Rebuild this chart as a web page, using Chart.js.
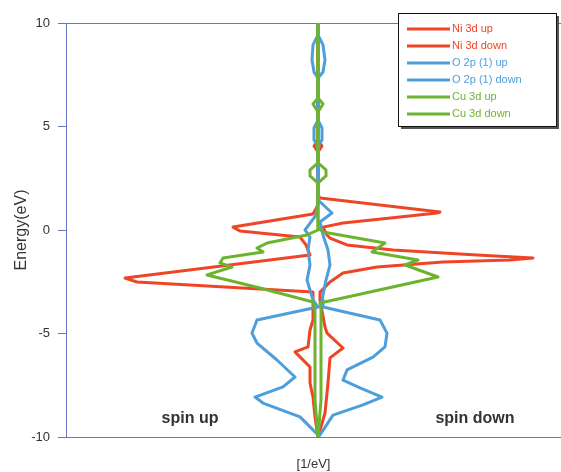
<!DOCTYPE html>
<html>
<head>
<meta charset="utf-8">
<script src="https://cdn.jsdelivr.net/npm/chart.js@4.4.1/dist/chart.umd.min.js"></script>
<style>
  html, body { margin: 0; padding: 0; background: #fff; overflow: hidden; }
  #wrap { position: relative; width: 561px; height: 472px; }
</style>
</head>
<body>
<div id="wrap"><canvas id="c" width="561" height="472"></canvas></div>
<script>
// ---- Data (energy in eV, DOS in 1/eV; spin up plotted as negative) ----
const seriesNames = ["Ni 3d up", "Ni 3d down", "O 2p (1) up", "O 2p (1) down", "Cu 3d up", "Cu 3d down"];
const yTicks = [-10, -5, 0, 5, 10];
const sideLabels = ["spin up", "spin down"];

const niUpE = [10, 4.35, 4.06, 3.77, 1.21, 0.77, 0.14, -0.05, -0.34, -0.72, -1.21, -2.32, -2.51, -3.00, -4.35, -4.83, -5.65, -5.89, -6.62, -7.39, -8.07, -9.03, -10];
const niUpD = [0, 0, -0.08, 0, 0, -0.1, -1.7, -1.56, -0.36, -0.24, -0.16, -3.86, -3.62, -0.1, -0.1, -0.16, -0.2, -0.46, -0.16, -0.16, -0.1, -0.06, 0];

const niDnE = [10, 4.35, 4.06, 3.77, 1.69, 1.55, 0.87, 0.82, 0.63, 0.34, 0.14, -0.24, -0.39, -0.72, -0.97, -1.21, -1.35, -1.45, -1.55, -1.79, -2.08, -2.51, -3.00, -3.38, -4.69, -4.98, -5.70, -6.18, -7.39, -8.84, -10];
const niDnD = [0, 0, 0.08, 0, 0, 0.04, 2.44, 2.38, 1.64, 0.5, 0.1, 0.18, 0.24, 0.58, 1.5, 3.18, 4.3, 3.84, 2.5, 1.18, 0.5, 0.24, 0.04, 0.04, 0.14, 0.18, 0.5, 0.24, 0.2, 0.14, 0];

const oUpE = [10, 9.42, 8.94, 8.21, 7.63, 7.34, 5.31, 4.93, 4.35, 4.06, 1.45, 0.72, 0, -0.34, -0.97, -1.69, -2.42, -3.38, -3.72, -4.35, -4.98, -5.46, -6.28, -7.10, -7.58, -8.07, -8.36, -9.03, -9.90, -10];
const oUpD = [0, 0, -0.1, -0.12, -0.08, 0, 0, -0.08, -0.08, 0, 0, -0.04, -0.26, -0.16, -0.2, -0.16, -0.22, -0.1, 0, -1.22, -1.32, -1.22, -0.82, -0.46, -0.7, -1.26, -1.1, -0.36, 0, 0];

const oDnE = [10, 9.42, 8.94, 8.21, 7.63, 7.34, 5.31, 4.93, 4.35, 4.06, 1.45, 0.82, 0.39, -0.24, -0.97, -1.69, -2.42, -3.38, -3.72, -4.35, -4.98, -5.65, -6.14, -6.76, -7.25, -7.63, -8.07, -8.45, -8.94, -9.90, -10];
const oDnD = [0, 0, 0.1, 0.14, 0.1, 0, 0, 0.08, 0.08, 0, 0, 0.28, 0.04, 0.1, 0.2, 0.24, 0.16, 0.08, 0.1, 1.24, 1.38, 1.34, 1.1, 0.58, 0.5, 0.84, 1.28, 0.9, 0.3, 0.04, 0];

const cuUpE = [10, 6.38, 6.09, 5.70, 3.24, 2.90, 2.61, 2.27, 0, -0.24, -0.63, -0.87, -1.06, -1.35, -1.59, -1.79, -2.17, -2.80, -3.48, -3.86, -8.21, -10];
const cuUpD = [0, 0, -0.1, 0, 0, -0.16, -0.16, 0, 0, -0.22, -1.02, -1.22, -1.1, -1.9, -1.96, -1.72, -2.22, -1.16, -0.1, -0.06, -0.06, 0];

const cuDnE = [10, 6.38, 6.09, 5.70, 3.24, 2.90, 2.61, 2.27, 0.10, -0.10, -0.63, -1.06, -1.45, -1.69, -2.27, -3.53, -3.86, -8.21, -10];
const cuDnD = [0, 0, 0.1, 0, 0, 0.16, 0.16, 0, 0, 0.1, 1.34, 1.08, 2.0, 1.74, 2.4, 0.04, 0.06, 0.06, 0];

const RED = '#ee4526', BLUE = '#4d9fdc', GREEN = '#6db42e';
const AXIS = '#6477c4';

function pts(E, D) { return E.map((e, i) => ({ x: D[i], y: e })); }
function ds(label, E, D, color, order) {
  return { label, data: pts(E, D), borderColor: color, backgroundColor: color,
           borderWidth: 3, pointRadius: 0, showLine: true, tension: 0, order,
           borderJoinStyle: 'round', borderCapStyle: 'round' };
}

const datasets = [
  ds(seriesNames[0], niUpE, niUpD, RED, 3),
  ds(seriesNames[1], niDnE, niDnD, RED, 3),
  ds(seriesNames[2], oUpE, oUpD, BLUE, 2),
  ds(seriesNames[3], oDnE, oDnD, BLUE, 2),
  ds(seriesNames[4], cuUpE, cuUpD, GREEN, 1),
  ds(seriesNames[5], cuDnE, cuDnD, GREEN, 1)
];
const legendColors = [RED, RED, BLUE, BLUE, GREEN, GREEN];

const deco = {
  id: 'deco',
  beforeDatasetsDraw(chart) {
    const { ctx, chartArea } = chart;
    ctx.save();
    ctx.strokeStyle = AXIS; ctx.lineWidth = 1;
    ctx.beginPath();
    ctx.moveTo(chartArea.left - 8, Math.round(chartArea.top) + 0.5);
    ctx.lineTo(chartArea.right, Math.round(chartArea.top) + 0.5);
    ctx.stroke();
    ctx.restore();
  },
  afterDraw(chart) {
    const { ctx, scales } = chart;
    ctx.save();
    // side labels
    ctx.fillStyle = '#333';
    ctx.font = 'bold 16px "Liberation Sans", Arial, sans-serif';
    ctx.textAlign = 'center'; ctx.textBaseline = 'middle';
    ctx.fillText(sideLabels[0], scales.x.getPixelForValue(-2.56), scales.y.getPixelForValue(-9.1));
    ctx.fillText(sideLabels[1], scales.x.getPixelForValue(3.14), scales.y.getPixelForValue(-9.1));
    // legend box
    const bx = 398, by = 13, bw = 158, bh = 113;
    ctx.fillStyle = '#555';
    ctx.fillRect(bx + 3, by + 3, bw, bh);
    ctx.fillStyle = '#fff';
    ctx.fillRect(bx, by, bw, bh);
    ctx.strokeStyle = '#111'; ctx.lineWidth = 1;
    ctx.strokeRect(bx + 0.5, by + 0.5, bw, bh);
    ctx.font = '11px "Liberation Sans", Arial, sans-serif';
    ctx.textAlign = 'left'; ctx.textBaseline = 'middle';
    const rowY = [29, 46, 63, 80, 97, 114];
    seriesNames.forEach((name, i) => {
      ctx.strokeStyle = legendColors[i]; ctx.lineWidth = 3;
      ctx.beginPath(); ctx.moveTo(407, rowY[i]); ctx.lineTo(450, rowY[i]); ctx.stroke();
      ctx.fillStyle = legendColors[i];
      ctx.fillText(name, 452, rowY[i]);
    });
    ctx.restore();
  }
};

new Chart(document.getElementById('c'), {
  type: 'scatter',
  data: { datasets },
  options: {
    responsive: false,
    animation: false,
    events: [],
    layout: { padding: { top: 23, right: 0, left: 0, bottom: 0 } },
    plugins: { legend: { display: false }, tooltip: { enabled: false } },
    scales: {
      x: {
        type: 'linear', min: -5.04, max: 4.86,
        grid: { display: false },
        border: { display: true, color: AXIS, width: 1 },
        ticks: { display: false },
        title: { display: true, text: '[1/eV]', color: '#333',
                 font: { size: 13, family: '"Liberation Sans", Arial, sans-serif' },
                 padding: { top: 14, bottom: 0 } },
        afterFit(s) { s.height = 35; }
      },
      y: {
        type: 'linear', min: -10, max: 10,
        afterBuildTicks(s) { s.ticks = yTicks.map(v => ({ value: v })); },
        grid: { display: true, drawOnChartArea: false, drawTicks: true, tickLength: 8, color: AXIS },
        border: { display: true, color: AXIS, width: 1 },
        ticks: { color: '#333', padding: 8,
                 font: { size: 13, family: '"Liberation Sans", Arial, sans-serif' } },
        title: { display: true, text: 'Energy(eV)', color: '#333',
                 font: { size: 16, family: '"Liberation Sans", Arial, sans-serif' },
                 padding: { top: 12, bottom: 0 } },
        afterFit(s) { s.width = 66; }
      }
    }
  },
  plugins: [deco]
});
</script>
</body>
</html>
